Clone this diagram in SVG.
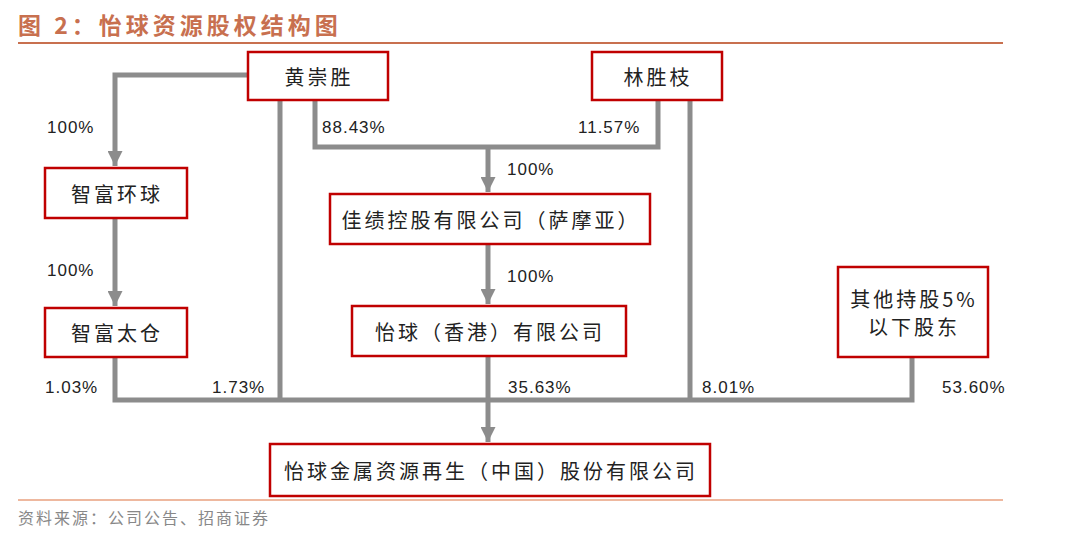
<svg xmlns="http://www.w3.org/2000/svg" width="1080" height="550" viewBox="0 0 1080 550">
<style>
.box{fill:#fff;stroke:#c00000;stroke-width:2.5}
.t{font-family:"Noto Sans CJK SC",sans-serif;font-size:20px;letter-spacing:3px;fill:#222;text-anchor:middle;dominant-baseline:central}
.p{font-family:"Liberation Sans","Noto Sans CJK SC",sans-serif;font-size:17px;letter-spacing:1px;fill:#222}
.c{fill:none;stroke:#8c8c8c;stroke-width:5}
</style>
<defs><marker id="a" viewBox="0 0 10 10" refX="10" refY="5" markerWidth="3" markerHeight="3" orient="auto" markerUnits="strokeWidth"><path d="M0,0L10,5L0,10z" fill="#8c8c8c"/></marker></defs>
<rect width="1080" height="550" fill="#fff"/>
<text x="18" y="34" font-family="Noto Sans CJK SC,sans-serif" font-size="23" letter-spacing="4" font-weight="bold" fill="#c8704f">图 2：怡球资源股权结构图</text>
<line x1="18" y1="43" x2="1003" y2="43" stroke="#c8704f" stroke-width="2"/>
<line x1="18" y1="500" x2="1003" y2="500" stroke="#e8a07f" stroke-width="1.5"/>
<text x="18" y="524" font-family="Noto Sans CJK SC,sans-serif" font-size="16" letter-spacing="2" fill="#888">资料来源：公司公告、招商证券</text>
<g id="connectors">
<path class="c" d="M248,75H115V166" marker-end="url(#a)"/>
<path class="c" d="M115,218V306" marker-end="url(#a)"/>
<path class="c" d="M280,100V400"/>
<path class="c" d="M315,100V147H658V100"/>
<path class="c" d="M488,147V192" marker-end="url(#a)"/>
<path class="c" d="M488,244V304" marker-end="url(#a)"/>
<path class="c" d="M690,100V400"/>
<path class="c" d="M115,357V400H912V357"/>
<path class="c" d="M488,356V442" marker-end="url(#a)"/>
</g>
<g id="n1"><rect class="box" x="248" y="52" width="140" height="48"/><text class="t" x="319" y="76">黄崇胜</text></g>
<g id="n2"><rect class="box" x="592" y="52" width="130" height="48"/><text class="t" x="658" y="76">林胜枝</text></g>
<g id="n3"><rect class="box" x="45" y="168" width="142" height="50"/><text class="t" x="117" y="193">智富环球</text></g>
<g id="n4"><rect class="box" x="330" y="194" width="320" height="50"/><text class="t" x="491" y="219">佳绩控股有限公司（萨摩亚）</text></g>
<g id="n5"><rect class="box" x="45" y="308" width="142" height="49"/><text class="t" x="117" y="332">智富太仓</text></g>
<g id="n6"><rect class="box" x="352" y="306" width="274" height="50"/><text class="t" x="490" y="331">怡球（香港）有限公司</text></g>
<g id="n7"><rect class="box" x="838" y="267" width="150" height="90"/><text class="t" x="914" y="298">其他持股5%</text><text class="t" x="914" y="326">以下股东</text></g>
<g id="n8"><rect class="box" x="270" y="444" width="440" height="52"/><text class="t" x="491" y="470">怡球金属资源再生（中国）股份有限公司</text></g>
<g id="labels">
<text class="p" x="47" y="133">100%</text>
<text class="p" x="47" y="276">100%</text>
<text class="p" x="322" y="133">88.43%</text>
<text class="p" x="578" y="133">11.57%</text>
<text class="p" x="507" y="175">100%</text>
<text class="p" x="507" y="282">100%</text>
<text class="p" x="45" y="393">1.03%</text>
<text class="p" x="212" y="393">1.73%</text>
<text class="p" x="508" y="393">35.63%</text>
<text class="p" x="702" y="393">8.01%</text>
<text class="p" x="942" y="393">53.60%</text>
</g>
</svg>
